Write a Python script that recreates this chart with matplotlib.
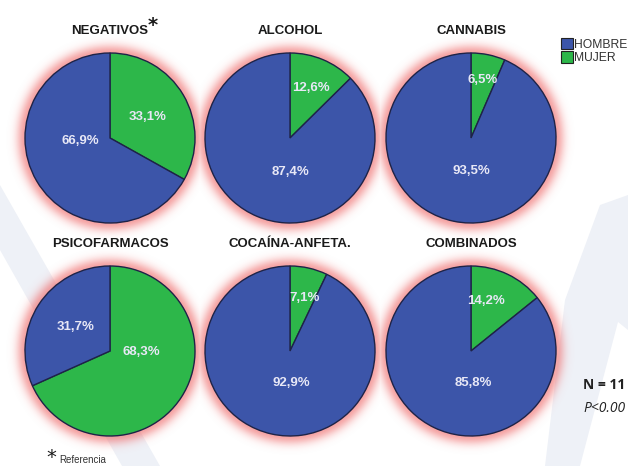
import numpy as np
import matplotlib
matplotlib.use("Agg")
import matplotlib.pyplot as plt
from matplotlib.patches import Rectangle, Polygon
from matplotlib import font_manager

# ---------------- data ----------------
titles = ["NEGATIVOS", "ALCOHOL", "CANNABIS",
          "PSICOFARMACOS", "COCAÍNA-ANFETA.", "COMBINADOS"]
mujer = [33.1, 12.6, 6.5, 68.3, 7.1, 14.2]
hombre = [66.9, 87.4, 93.5, 31.7, 92.9, 85.8]
legend_labels = ["HOMBRE", "MUJER"]
note_n = "N = 11"
note_p = "P<0.00"
footnote = "Referencia"

# ---------------- layout / style ----------------
W, H = 628, 466
CX = [110, 290, 471]
CY = [138, 351]
R = 85
TITLE_Y = [31, 244]
# label offsets (in radius units, x right / y up): (mujer, hombre)
LABEL_OFF = [((0.44, 0.25), (-0.35, -0.04)),
             ((0.25, 0.59), (0.01, -0.40)),
             ((0.14, 0.68), (0.00, -0.39)),
             ((0.37, -0.01), (-0.40, 0.28)),
             ((0.17, 0.62), (0.01, -0.38)),
             ((0.18, 0.59), (0.03, -0.38))]
BLUE = "#3c55a9"
GREEN = "#2db74a"
EDGE = "#1e2347"
LABEL_C = "#e8e8f6"

avail = {f.name for f in font_manager.fontManager.ttflist}
NARROW = "Liberation Sans Narrow" if "Liberation Sans Narrow" in avail else "Liberation Sans"

fig = plt.figure(figsize=(W / 100, H / 100), dpi=100)
fig.patch.set_facecolor("white")
ax = fig.add_axes([0, 0, 1, 1])

# faint watermark shapes
wm = "#eef1f7"
ax.add_patch(Polygon([(0, H - 185), (0, H - 250), (122, 0), (160, 0)],
                     closed=True, color=wm, lw=0, zorder=0))
ax.add_patch(Polygon([(600, H - 205), (628, H - 195), (628, H - 330),
                      (618, H - 322), (580, 0), (545, 0), (565, H - 300)],
                     closed=True, color=wm, lw=0, zorder=0))

# glow image
yy, xx = np.mgrid[0:H, 0:W] + 0.5
alpha = np.zeros((H, W))
for r in range(2):
    for c in range(3):
        d = np.hypot(xx - CX[c], yy - CY[r]) - R
        a = np.where(d > -2, 0.62 * np.exp(-(np.clip(d, 0, None) / 8.5) ** 2), 0)
        alpha = np.maximum(alpha, a)
glow = np.zeros((H, W, 4))
glow[..., 0] = 0.94
glow[..., 1] = 0.42
glow[..., 2] = 0.42
glow[..., 3] = alpha
ax.imshow(glow, extent=(0, W, 0, H), origin="upper", zorder=1, interpolation="bilinear")

# pies
for i in range(6):
    r, c = divmod(i, 3)
    cx, cy = CX[c], H - CY[r]
    ax.pie([mujer[i], hombre[i]], colors=[GREEN, BLUE], startangle=90,
           counterclock=False, center=(cx, cy), radius=R, frame=False,
           wedgeprops=dict(edgecolor=EDGE, linewidth=1.0, zorder=2))
    for val, off in zip([mujer[i], hombre[i]], LABEL_OFF[i]):
        ax.text(cx + off[0] * R, cy + off[1] * R, f"{val:.1f}%".replace(".", ","),
                ha="center", va="center", color=LABEL_C, fontsize=9.5,
                fontweight="bold", family=NARROW, zorder=5)
    ax.text(cx, H - TITLE_Y[r], titles[i], ha="center", va="center",
            fontsize=9.5, fontweight="bold", family=NARROW, color="#1a1a1a", zorder=5)

# asterisk next to NEGATIVOS
ax.text(148, H - 26, "*", ha="left", va="center", fontsize=14,
        family="DejaVu Sans", fontweight="bold", color="#1a1a1a", zorder=5)

ax.set_xlim(0, W)
ax.set_ylim(0, H)
ax.set_axis_off()

# legend
handles = [Rectangle((0, 0), 1, 1, facecolor=BLUE, edgecolor="#222222", lw=0.8),
           Rectangle((0, 0), 1, 1, facecolor=GREEN, edgecolor="#222222", lw=0.8)]
fig.legend(handles, legend_labels, loc="upper left",
           bbox_to_anchor=(561 / W, 1 - 38 / H), frameon=False,
           handlelength=1.0, handleheight=1.05, handletextpad=0.1,
           labelspacing=0.05, borderpad=0, borderaxespad=0,
           prop=dict(family="Liberation Sans", size=8.7), labelcolor="#333333")

# notes
ax.text(583, H - 385, note_n, ha="left", va="center", fontsize=10,
        family="Open Sans", fontweight="bold", color="#222222", zorder=5)
ax.text(583, H - 409, note_p, ha="left", va="center", fontsize=10,
        family="Open Sans", style="italic", color="#222222", zorder=5)
ax.text(46, H - 457, "*", ha="left", va="center", fontsize=14,
        family="DejaVu Sans", color="#1a1a1a", zorder=5)
ax.text(59, 1, footnote, ha="left", va="bottom", fontsize=7,
        family="Liberation Sans", color="#333333", zorder=5)

fig.savefig("out.png", dpi=100, facecolor="white")
